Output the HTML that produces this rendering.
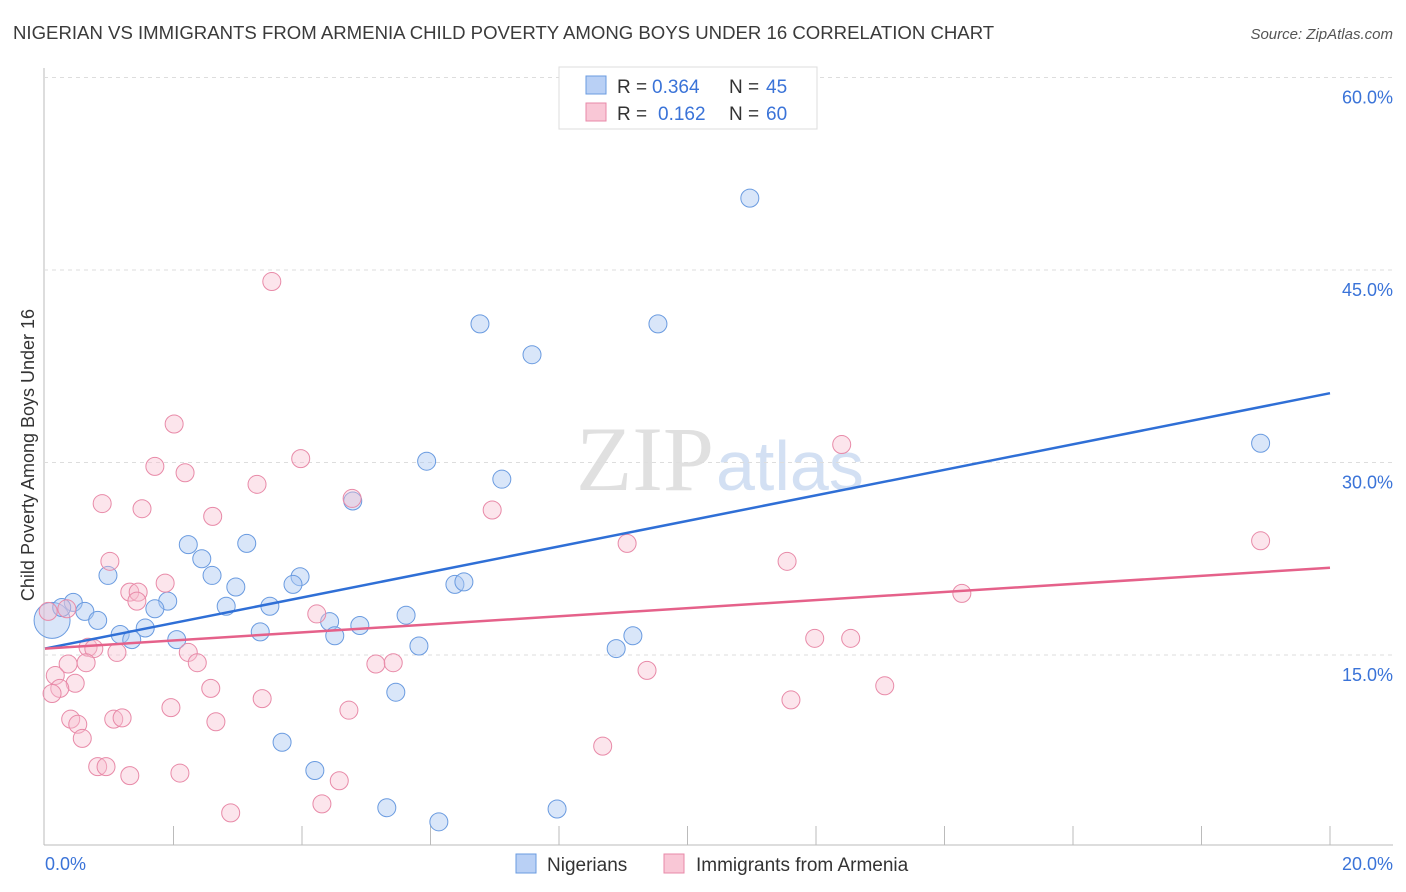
<!DOCTYPE html>
<html><head><meta charset="utf-8"><style>
body{margin:0;background:#fff;font-family:"Liberation Sans",sans-serif;}
svg{display:block}
</style></head><body>
<svg width="1406" height="892" id="chart">
<text x="13" y="39" font-size="18.6" fill="#3a3a3a">NIGERIAN VS IMMIGRANTS FROM ARMENIA CHILD POVERTY AMONG BOYS UNDER 16 CORRELATION CHART</text>
<text x="1393" y="39" font-size="15" fill="#555" font-style="italic" text-anchor="end">Source: ZipAtlas.com</text>
<text x="714" y="490" font-size="92" fill="#e0e0e0" text-anchor="end" font-family="Liberation Serif,serif">ZIP</text>
<text x="716" y="490" font-size="70" fill="#d3e0f3">atlas</text>
<text transform="translate(34,455) rotate(-90)" font-size="18" fill="#333" text-anchor="middle">Child Poverty Among Boys Under 16</text>
<g id="grid"></g><g id="marks"></g>
<g>
<rect x="559" y="67" width="258" height="62" fill="#fff" stroke="#ddd"/>
<rect x="586" y="76" width="20" height="18" fill="#b9d0f5" stroke="#6a9be0"/>
<rect x="586" y="103" width="20" height="18" fill="#f9c7d6" stroke="#e88aa8"/>
<text x="617" y="93" font-size="19" fill="#333">R =</text>
<text x="652" y="93" font-size="19" fill="#3a73d8">0.364</text>
<text x="729" y="93" font-size="19" fill="#333">N =</text>
<text x="766" y="93" font-size="19" fill="#3a73d8">45</text>
<text x="617" y="120" font-size="19" fill="#333">R =</text>
<text x="658" y="120" font-size="19" fill="#3a73d8">0.162</text>
<text x="729" y="120" font-size="19" fill="#333">N =</text>
<text x="766" y="120" font-size="19" fill="#3a73d8">60</text>
</g>
<g>
<rect x="516" y="854" width="20" height="19" fill="#b9d0f5" stroke="#6a9be0"/>
<text x="547" y="871" font-size="19" fill="#333">Nigerians</text>
<rect x="664" y="854" width="20" height="19" fill="#f9c7d6" stroke="#e88aa8"/>
<text x="696" y="871" font-size="19" fill="#333">Immigrants from Armenia</text>
</g>
</svg>
<script>
const yTicks=[15,30,45,60];
const xTickLabels=["0.0%","20.0%"];
const blueX=[10.97,6.77,9.54,7.58,18.92,5.94,7.11,4.79,2.23,3.14,2.44,0.98,2.60,3.97,3.86,2.97,6.38,6.52,1.91,0.44,0.26,0.62,1.71,2.82,3.50,5.62,0.82,4.43,4.90,1.56,1.17,3.35,4.51,9.15,1.35,2.05,5.82,8.89,5.46,3.69,4.20,5.32,7.97,6.13];
const blueY=[50.6,40.8,40.8,38.4,31.5,30.1,28.7,27.0,23.6,23.7,22.5,21.2,21.2,21.1,20.5,20.3,20.5,20.7,19.2,19.1,18.7,18.4,18.6,18.8,18.8,18.1,17.7,17.6,17.3,17.1,16.6,16.8,16.5,16.5,16.2,16.2,15.7,15.5,12.1,8.2,6.0,3.1,3.0,2.0];
const pinkX=[3.53,2.01,12.40,1.71,2.18,3.98,3.30,4.78,0.89,1.51,6.96,2.61,9.06,18.92,1.01,11.55,1.87,1.32,1.45,1.43,14.27,0.34,4.23,0.67,0.76,11.98,12.54,2.23,1.12,0.36,0.64,2.37,5.15,5.42,0.16,9.37,0.47,0.23,0.11,13.07,2.58,3.38,11.61,4.73,1.96,0.40,0.51,1.07,1.20,2.66,0.58,8.68,0.82,0.95,1.32,2.10,4.58,4.31,2.89,0.05];
const pinkY=[44.1,33.0,31.4,29.7,29.2,30.3,28.3,27.2,26.8,26.4,26.3,25.8,23.7,23.9,22.3,22.3,20.6,19.9,19.9,19.2,19.8,18.6,18.2,15.6,15.5,16.3,16.3,15.2,15.2,14.3,14.4,14.4,14.3,14.4,13.4,13.8,12.8,12.4,12.0,12.6,12.4,11.6,11.5,10.7,10.9,10.0,9.6,10.0,10.1,9.8,8.5,7.9,6.3,6.3,5.6,5.8,5.2,3.4,2.7,18.4];
const blueBig=[0.11,17.7];
const blueTrend=[15.5,35.4];
const pinkTrend=[15.5,21.8];
const xs=v=>45+v/20*1285;
const ys=v=>847.5-v/15*192.5;
const NS="http://www.w3.org/2000/svg";
const grid=document.getElementById('grid'),marks=document.getElementById('marks');
function mk(tag,attrs,parent){const e=document.createElementNS(NS,tag);for(const k in attrs)e.setAttribute(k,attrs[k]);parent.appendChild(e);return e;}
let ax=mk('line',{x1:44,y1:68,x2:44,y2:845,stroke:'#bbb'},grid);


let bx=mk('line',{x1:44,y1:845,x2:1393,y2:845,stroke:'#bbb'},grid);


yTicks.forEach(t=>{
 let l=mk('line',{x1:44,x2:1393,y1:ys(t),y2:ys(t),stroke:'#ddd','stroke-dasharray':'4,4'},grid);
 
 
 let tx=mk('text',{x:1393,y:ys(t)+26,'font-size':18,fill:'#3a73d8','text-anchor':'end'},grid);
 tx.textContent=t.toFixed(1)+'%';
 
 
});
for(let i=1;i<=10;i++){
 let l=mk('line',{x1:xs(i*2),x2:xs(i*2),y1:826,y2:845,stroke:'#bbb'},grid);
 
 
}
[[0,45,'start'],[1,1393,'end']].forEach(([i,x,a])=>{
 let t=mk('text',{x:x,y:870,'font-size':18,fill:'#3a73d8','text-anchor':a},grid);
 t.textContent=xTickLabels[i];
 
 
});
let bb=mk('circle',{cx:xs(blueBig[0]),cy:ys(blueBig[1]),r:18,fill:'rgba(170,200,242,0.45)',stroke:'#6a9be0','stroke-width':1},marks);


blueX.forEach((x,i)=>{
 let c=mk('circle',{cx:xs(x),cy:ys(blueY[i]),r:9,fill:'rgba(170,200,242,0.45)',stroke:'#6a9be0','stroke-width':1},marks);
 
 
});
pinkX.forEach((x,i)=>{
 let c=mk('circle',{cx:xs(x),cy:ys(pinkY[i]),r:9,fill:'rgba(248,190,208,0.4)',stroke:'#e88aa8','stroke-width':1},marks);
 
 
});
let tb=mk('line',{x1:xs(0),y1:ys(blueTrend[0]),x2:xs(20),y2:ys(blueTrend[1]),stroke:'#2f6fd6','stroke-width':2.5},marks);


let tp=mk('line',{x1:xs(0),y1:ys(pinkTrend[0]),x2:xs(20),y2:ys(pinkTrend[1]),stroke:'#e5618a','stroke-width':2.5},marks);


</script>
</body></html>
